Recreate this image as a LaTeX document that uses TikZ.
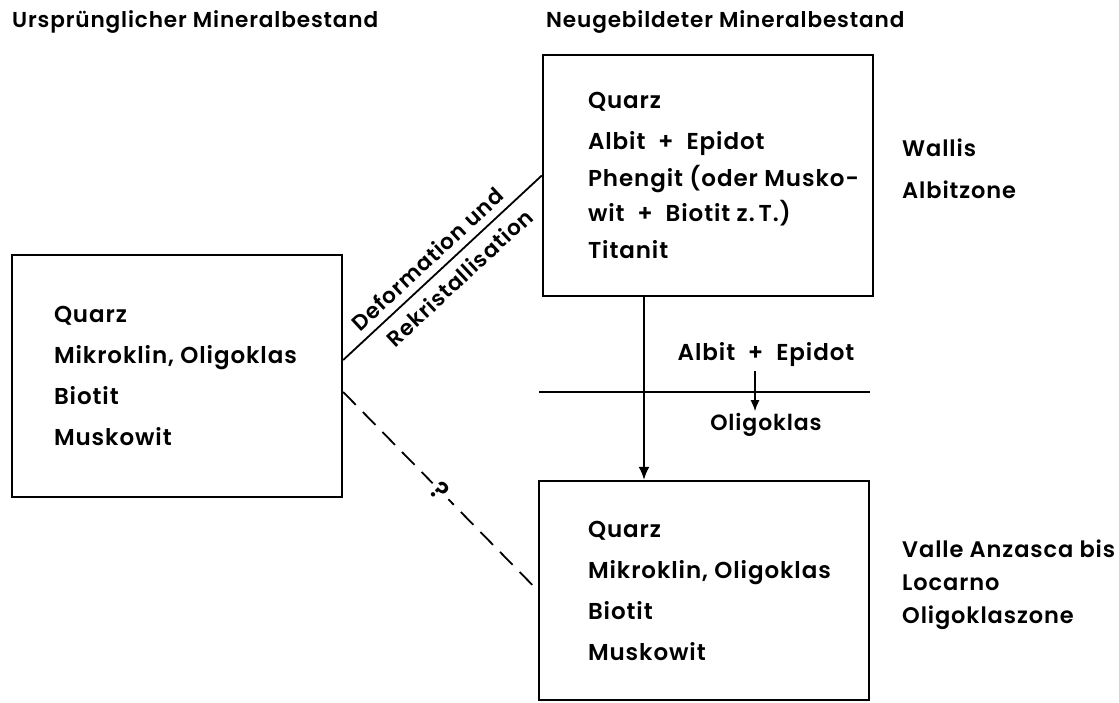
\documentclass[tikz,border=0pt]{standalone}
\usepackage{fontspec}
\setmainfont{Poppins}[UprightFont=* SemiBold,LetterSpace=4]
\usetikzlibrary{arrows.meta,positioning}
\def\grundschrift{\fontsize{23}{41}\selectfont}
\def\mittelschrift{\fontsize{23}{37}\selectfont}
\def\randschrift{\fontsize{21.6}{41}\selectfont}

\begin{document}
\begin{tikzpicture}[x=1pt,y=-1pt,
	mineralbox/.style={draw,line width=2.4pt,minimum width=330pt,inner sep=0pt},
	liste/.style={align=left,inner sep=0pt,font=\grundschrift},
	titel/.style={anchor=west,inner sep=0pt,font=\randschrift},
	pfeil/.style={line width=1.8pt,-{Latex[length=13pt,width=11pt]}}]
	\useasboundingbox (0,0) rectangle (1119,702);

	% Ueberschriften
	\node[titel] (ursprung) at (12,22) {Ursprünglicher Mineralbestand};
	\node[titel] (neubildung) at (546,22) {Neugebildeter Mineralbestand};

	% Kaesten
	\node[mineralbox,minimum height=242pt] (alt) at (177,376) {};
	\node[mineralbox,minimum height=241pt] (neu) at (708,175.5) {};
	\node[mineralbox,minimum height=219pt] (oligo) at (704,590.5) {};

	\node[liste,right=43pt of alt.west] (altliste)
		{Quarz\\Mikroklin, Oligoklas\\Biotit\\Muskowit};
	\node[liste,font=\mittelschrift,right=46pt of neu.west] (neuliste)
		{Quarz\\[4pt]Albit\ \ +\ \ Epidot\\Phengit (oder Musko-\\[-2pt]wit\ \ +\ \ Biotit z.\,T.)\\Titanit};
	\node[liste,right=50pt of oligo.west] (oligoliste)
		{Quarz\\Mikroklin, Oligoklas\\Biotit\\Muskowit};

	% Zonen
	\node[liste,anchor=west,font=\fontsize{22.5}{42}\selectfont] (wallis) at (902,169)
		{Wallis\\Albitzone};
	\node[liste,anchor=west,font=\fontsize{22.5}{33}\selectfont] (anzasca) at (902,585)
		{Valle Anzasca bis\\Locarno\\Oligoklaszone};

	% Verbindungen
	\draw[line width=1.8pt] ([yshift=16pt]alt.east) -- node[sloped,above=4pt,pos=0.48,font=\randschrift] {Deformation und}
		node[sloped,below=6pt,pos=0.52,font=\randschrift] {Rekristallisation} (neu.west);
	\draw[line width=1.8pt,dash pattern=on 18pt off 10pt] ([yshift=-16pt]alt.east) --
		node[sloped,midway,fill=white,inner sep=4pt,font=\fontsize{26}{30}\selectfont] (frage) {?} (oligo.west);

	% Umwandlung Albit + Epidot -> Oligoklas
	\coordinate (grenzelinks) at (539,392);
	\coordinate (grenzerechts) at (870,392);
	\draw[line width=1.6pt] (grenzelinks) -- (grenzerechts);
	\node[liste] (albitepidot) at (766,355) {Albit\ \ +\ \ Epidot};
	\node[liste,font=\fontsize{22}{26}\selectfont] (oligoklas) at (766,425) {Oligoklas};
	\draw[pfeil,line width=1.4pt,-{Latex[length=11pt,width=9pt]}] ([xshift=-11pt,yshift=-4pt]albitepidot.south) -- ([xshift=-11pt,yshift=2pt]albitepidot.south |- oligoklas.north);
	\draw[pfeil] ([xshift=-64pt]neu.south) -- ([xshift=-64pt]neu.south |- oligo.north);
\end{tikzpicture}
\end{document}
